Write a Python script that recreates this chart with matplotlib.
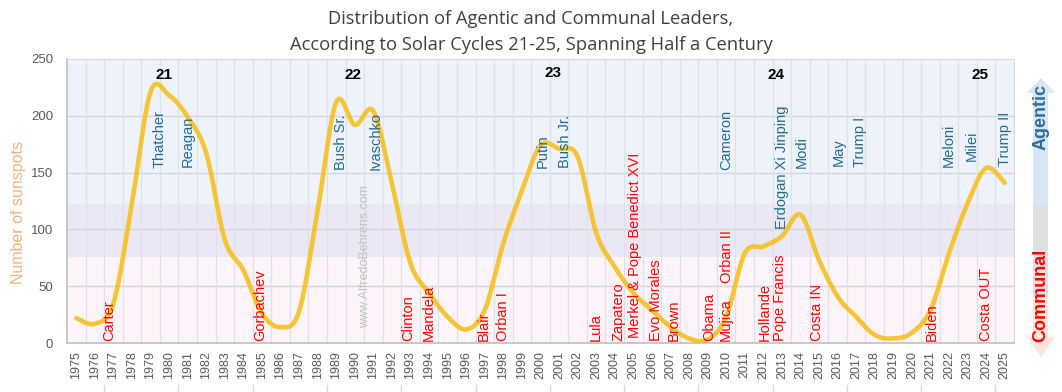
import numpy as np
import matplotlib
matplotlib.use("Agg")
import matplotlib.pyplot as plt
from matplotlib.patches import Polygon
from matplotlib.transforms import blended_transform_factory

# ---------------- data ----------------
years = list(range(1975, 2026))
sunspots = [22, 17, 35, 123, 221, 218, 199, 167, 91, 64,
            26, 14, 28, 117, 212, 192, 204, 140, 70, 44,
            23, 12, 29, 88, 134, 174, 171, 164, 97, 67,
            44, 29, 14, 4, 3, 23, 79, 85, 94, 113,
            73, 41, 23, 7, 4, 9, 29, 79, 123, 154, 141]

agentic_names = ["Thatcher", "Reagan", "Bush Sr.", "Ivaschko", "Putin", "Bush Jr.",
                 "Cameron", "Erdogan Xi Jinping", "Modi", "May", "Trump I",
                 "Meloni", "Milei", "Trump II"]
agentic_pos = [1979.5, 1981.0, 1989.25, 1991.1, 2000.1, 2001.3,
               2010.0, 2013.0, 2014.05, 2016.05, 2017.2,
               2022.0, 2023.2, 2025.0]
agentic_base = [154, 155, 152, 152, 154, 154, 152, 100, 154, 156, 155, 155, 160, 156]

communal_names = ["Carter", "Gorbachev", "Clinton", "Mandela", "Blair", "Orban I",
                  "Lula", "Zapatero", "Merkel & Pope Benedict XVI", "Evo Morales",
                  "Brown", "Obama", "Mujica", "Orban II", "Hollande", "Pope Francis",
                  "Costa IN", "Biden", "Costa OUT"]
communal_pos = [1976.8, 1984.9, 1992.9, 1994.0, 1996.95, 1998.0,
                2003.0, 2004.2, 2005.1, 2006.2,
                2007.2, 2009.1, 2010.0, 2010.05, 2012.1, 2012.9,
                2014.9, 2021.05, 2024.0]
communal_base = [2, 2, 2, 2, 2, 2, 2, 2, 4, 2, 2, 2, 2, 53, 2, 2, 2, 2, 2]

cycle_labels = ["21", "22", "23", "24", "25"]
cycle_pos = [1979.7, 1989.9, 2000.7, 2012.7, 2023.65]
cycle_y = [236, 236, 238, 236, 236]

# ---------------- helpers ----------------
def smooth_curve(xs, ys, n=30):
    pts = np.column_stack([xs, ys]).astype(float)
    out = []
    m = len(pts)
    for i in range(m - 1):
        p0 = pts[i - 1] if i > 0 else pts[i]
        p1 = pts[i]
        p2 = pts[i + 1]
        p3 = pts[i + 2] if i + 2 < m else pts[i + 1]
        c1 = p1 + (p2 - p0) / 6.0
        c2 = p2 - (p3 - p1) / 6.0
        t = np.linspace(0, 1, n, endpoint=(i == m - 2))[:, None]
        seg = ((1 - t) ** 3) * p1 + 3 * ((1 - t) ** 2) * t * c1 + 3 * (1 - t) * t ** 2 * c2 + t ** 3 * p2
        out.append(seg)
    out = np.vstack(out)
    return out[:, 0], out[:, 1]

W, H = 1062, 392
def fx(px):
    return px / W
def fy(py):
    return 1 - py / H

plt.rcParams['font.family'] = ['Liberation Sans', 'DejaVu Sans']

fig = plt.figure(figsize=(W / 100, H / 100), dpi=100)
fig.patch.set_facecolor('white')

ax = fig.add_axes([fx(67), fy(343), (1014 - 67) / W, (343 - 59) / H])
ax.set_xlim(1974.5, 2025.5)
ax.set_ylim(0, 250)

# background bands
ax.axhspan(122, 250, color='#EEF3FB', zorder=0, lw=0)
ax.axhspan(76, 122, color='#EAE8F4', zorder=0, lw=0)
ax.axhspan(0, 76, color='#FCF4F9', zorder=0, lw=0)

# grid
for yv in [50, 100, 150, 200]:
    ax.axhline(yv, color='#D3D5DD', lw=1.0, zorder=1)
for xv in np.arange(1975.5, 2025.5, 1.0):
    ax.axvline(xv, color='#DEE1EA', lw=0.9, zorder=1)

# curve
sx, sy = smooth_curve(years, sunspots)
ax.plot(sx, sy, color='#F6BE1C', lw=3.3, alpha=0.88, solid_capstyle='round', zorder=4)

# labels
for name, xp, b in zip(agentic_names, agentic_pos, agentic_base):
    ax.text(xp, b, name, rotation=90, ha='center', va='bottom', color='#236B8E',
            fontsize=10.5, zorder=5)
for name, xp, b in zip(communal_names, communal_pos, communal_base):
    ax.text(xp, b, name, rotation=90, ha='center', va='bottom', color='#FF0000',
            fontsize=10.5, zorder=5)
for lab, xp, yp in zip(cycle_labels, cycle_pos, cycle_y):
    ax.text(xp, yp, lab, ha='center', va='center', color='black', fontsize=11,
            fontweight='bold', zorder=5)

ax.text(1990.55, 76, 'www.AlfredoBehrens.com', rotation=90, ha='center', va='center',
        color='#BFBFBF', fontsize=9, zorder=3)

# axes styling
ax.set_xticks(years)
ax.set_xticklabels([str(y) for y in years], rotation=90, fontsize=9, color='#595959')
ax.set_yticks([0, 50, 100, 150, 200, 250])
ax.set_yticklabels(['0', '50', '100', '150', '200', '250'], fontsize=9.5, color='#595959')
ax.tick_params(axis='both', length=0)
ax.tick_params(axis='x', pad=6)
ax.tick_params(axis='y', pad=10)
for side in ['top', 'right']:
    ax.spines[side].set_color('#D9D9D9')
    ax.spines[side].set_linewidth(0.8)
for side in ['left', 'bottom']:
    ax.spines[side].set_color('#BFBFBF')
    ax.spines[side].set_linewidth(1.2)

ax.set_ylabel('Number of sunspots', color='#F4B183', fontsize=11.5)
ax.yaxis.set_label_coords(-0.043, 0.46)

# multi-level category separators at the very bottom
trans = blended_transform_factory(ax.transData, fig.transFigure)
for xv in np.arange(1976.5, 2025, 4.0):
    ax.plot([xv, xv], [fy(385), fy(392)], transform=trans, color='#D9D9D9', lw=1,
            clip_on=False)

# title
fig.text(0.5, fy(19), 'Distribution of Agentic and Communal Leaders,', ha='center', va='center',
         fontsize=13.2, color='#404040', family=['Open Sans', 'DejaVu Sans'])
fig.text(0.5, fy(45), 'According to Solar Cycles 21-25, Spanning Half a Century', ha='center',
         va='center', fontsize=13.2, color='#404040', family=['Open Sans', 'DejaVu Sans'])

# right-side double arrow
def poly(points, color):
    p = Polygon([(fx(x), fy(y)) for x, y in points], closed=True, facecolor=color,
                edgecolor='none', transform=fig.transFigure)
    fig.patches.append(p)

poly([(1033, 203), (1033, 93), (1027, 93), (1041, 78), (1055, 93), (1048, 93), (1048, 203)],
     '#D8E6F4')
poly([(1033, 203), (1048, 203), (1048, 297), (1033, 297)], '#E0E0E3')
poly([(1033, 297), (1048, 297), (1048, 337), (1055, 337), (1041, 357), (1027, 337),
      (1033, 337)], '#FCE6DC')

fig.text(fx(1041), fy(117), 'Agentic', rotation=90, ha='center', va='center',
         color='#2F6E96', fontsize=13, fontweight='bold')
fig.text(fx(1041), fy(295), 'Communal', rotation=90, ha='center', va='center',
         color='#FF0000', fontsize=13, fontweight='bold')

fig.savefig('out.png', dpi=100)
